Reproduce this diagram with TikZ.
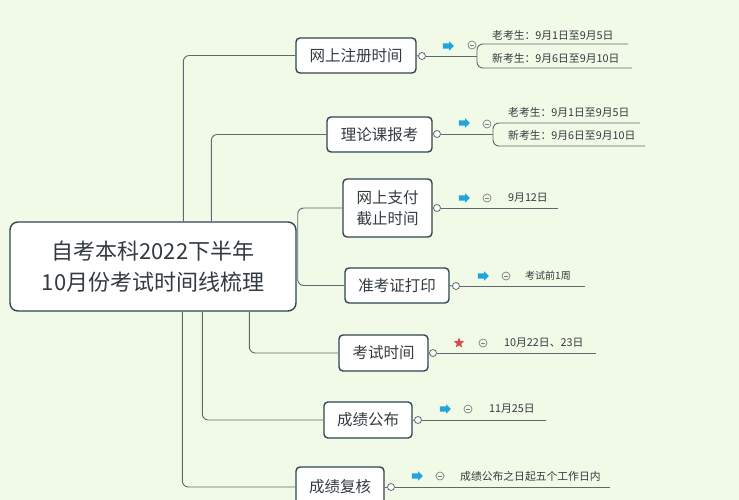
\documentclass[tikz,border=0pt]{standalone}
\usepackage{fontspec}
\setmainfont{Noto Sans CJK SC}
\usetikzlibrary{shapes.geometric,shapes.arrows}
\definecolor{bg}{HTML}{F0FAE6}
\definecolor{boxline}{HTML}{2F4552}
\definecolor{conn}{HTML}{5E6B6E}
\definecolor{txt}{HTML}{333B40}
\definecolor{arrowblue}{HTML}{22A4DC}
\definecolor{starred}{HTML}{D84A4C}
\begin{document}
\begin{tikzpicture}[x=1pt,y=-1pt,
 topic/.style={draw=boxline, line width=1.4pt, fill=white, rounded corners=4pt, text=txt,
   font=\fontsize{15.5}{21}\selectfont, align=center, inner sep=0pt},
 link/.style={draw=conn, line width=0.9pt, rounded corners=6pt},
 knob/.style={circle, draw=conn, line width=0.8pt, fill=white, minimum size=7pt, inner sep=0pt},
 fold/.style={circle, draw=conn!85, line width=0.7pt, minimum size=8pt, inner sep=0pt,
   path picture={\draw[conn!85, line width=0.7pt] ([xshift=-2pt]path picture bounding box.center) -- ([xshift=2pt]path picture bounding box.center);}},
 leaf/.style={text=txt, font=\fontsize{10.8}{12}\selectfont, inner sep=0pt, anchor=west},
 goarrow/.style={single arrow, fill=arrowblue, draw=none, minimum width=9pt, minimum height=11pt,
   single arrow head extend=2pt, inner xsep=0pt, inner ysep=2.4pt},
 redstar/.style={star, star points=5, star point ratio=2.3, fill=starred, draw=none, minimum size=11pt, inner sep=0pt}
]
\fill[bg] (0,0) rectangle (739,500);
\useasboundingbox (0,0) rectangle (739,500);

% central topic
\node[topic, rounded corners=8pt, minimum width=286pt, minimum height=89pt,
  font=\fontsize{22}{31}\selectfont] (root) at (153,266.5) {自考本科2022下半年\\10月份考试时间线梳理};

% main topics
\node[topic, minimum width=120pt, minimum height=35pt] (n1) at (356,55.5) {网上注册时间};
\node[topic, minimum width=105pt, minimum height=35pt] (n2) at (379.5,134.5) {理论课报考};
\node[topic, minimum width=89pt, minimum height=58pt] (n3) at (387.5,208) {网上支付\\截止时间};
\node[topic, minimum width=104pt, minimum height=35pt] (n4) at (397,285.5) {准考证打印};
\node[topic, minimum width=89pt, minimum height=36pt] (n5) at (383.5,353) {考试时间};
\node[topic, minimum width=88pt, minimum height=36pt] (n6) at (368,420) {成绩公布};
\node[topic, minimum width=88pt, minimum height=40pt] (n7) at (340,487) {成绩复核};

% connectors from root
\draw[link] (root.north west) ++(174,0) |- (n1.west);
\draw[link] (root.north west) ++(202,0) |- (n2.west);
\draw[link] (root.east) ++(1,0) |- (n3.west);
\draw[link] (root.east) ++(1,0) |- (n4.west);
\draw[link] (root.south west) ++(240,0) |- (n5.west);
\draw[link] (root.south west) ++(193,0) |- (n6.west);
\draw[link] (root.south west) ++(173,0) |- (n7.west);

% knobs
\node[knob] (k1) at (422,56) {};
\node[knob] (k2) at (437,134) {};
\node[knob] (k3) at (437,208) {};
\node[knob] (k4) at (456,286) {};
\node[knob] (k5) at (433,353) {};
\node[knob] (k6) at (418,420) {};
\node[knob] (k7) at (391,487) {};
\foreach \i in {1,...,7} {\draw[link] (n\i.east) -- (k\i.west);}

% branch 1
\coordinate (b1) at (477,56);
\draw[link] (k1.east) -- (b1);
\draw[link] (628,44) -- (477,44) -- (477,68) -- (632,68);
\node[goarrow] (a1) at (447,46) {};
\node[fold] (f1) at (472,45) {};
\node[leaf] (l1a) at (492,35) {老考生：9月1日至9月5日};
\node[leaf] (l1b) at (492,58) {新考生：9月6日至9月10日};

% branch 2
\coordinate (b2) at (493,134);
\draw[link] (k2.east) -- (b2);
\draw[link] (640,123) -- (493,123) -- (493,146) -- (645,146);
\node[goarrow] (a2) at (463,123) {};
\node[fold] (f2) at (487,124) {};
\node[leaf] (l2a) at (508,112) {老考生：9月1日至9月5日};
\node[leaf] (l2b) at (508,135) {新考生：9月6日至9月10日};

% branch 3
\coordinate (e3) at (558,208);
\draw[link] (k3.east) -- (e3);
\node[goarrow] (a3) at (463,198) {};
\node[fold] (f3) at (487,198) {};
\node[leaf] (l3) at (508,198) {9月12日};

% branch 4
\coordinate (e4) at (585,286);
\draw[link] (k4.east) -- (e4);
\node[goarrow] (a4) at (482,276) {};
\node[fold] (f4) at (506,276) {};
\node[leaf, font=\fontsize{10}{12}\selectfont] (l4) at (525,276) {考试前1周};

% branch 5
\coordinate (e5) at (596,353);
\draw[link] (k5.east) -- (e5);
\node[redstar] (s5) at (459,343) {};
\node[fold] (f5) at (483,343) {};
\node[leaf] (l5) at (504,343) {10月22日、23日};

% branch 6
\coordinate (e6) at (546,420);
\draw[link] (k6.east) -- (e6);
\node[goarrow] (a6) at (444,409) {};
\node[fold] (f6) at (468,409) {};
\node[leaf] (l6) at (489,409) {11月25日};

% branch 7
\coordinate (e7) at (610,487);
\draw[link] (k7.east) -- (e7);
\node[goarrow] (a7) at (416,476) {};
\node[fold] (f7) at (440,476) {};
\node[leaf] (l7) at (460,476) {成绩公布之日起五个工作日内};
\end{tikzpicture}
\end{document}
